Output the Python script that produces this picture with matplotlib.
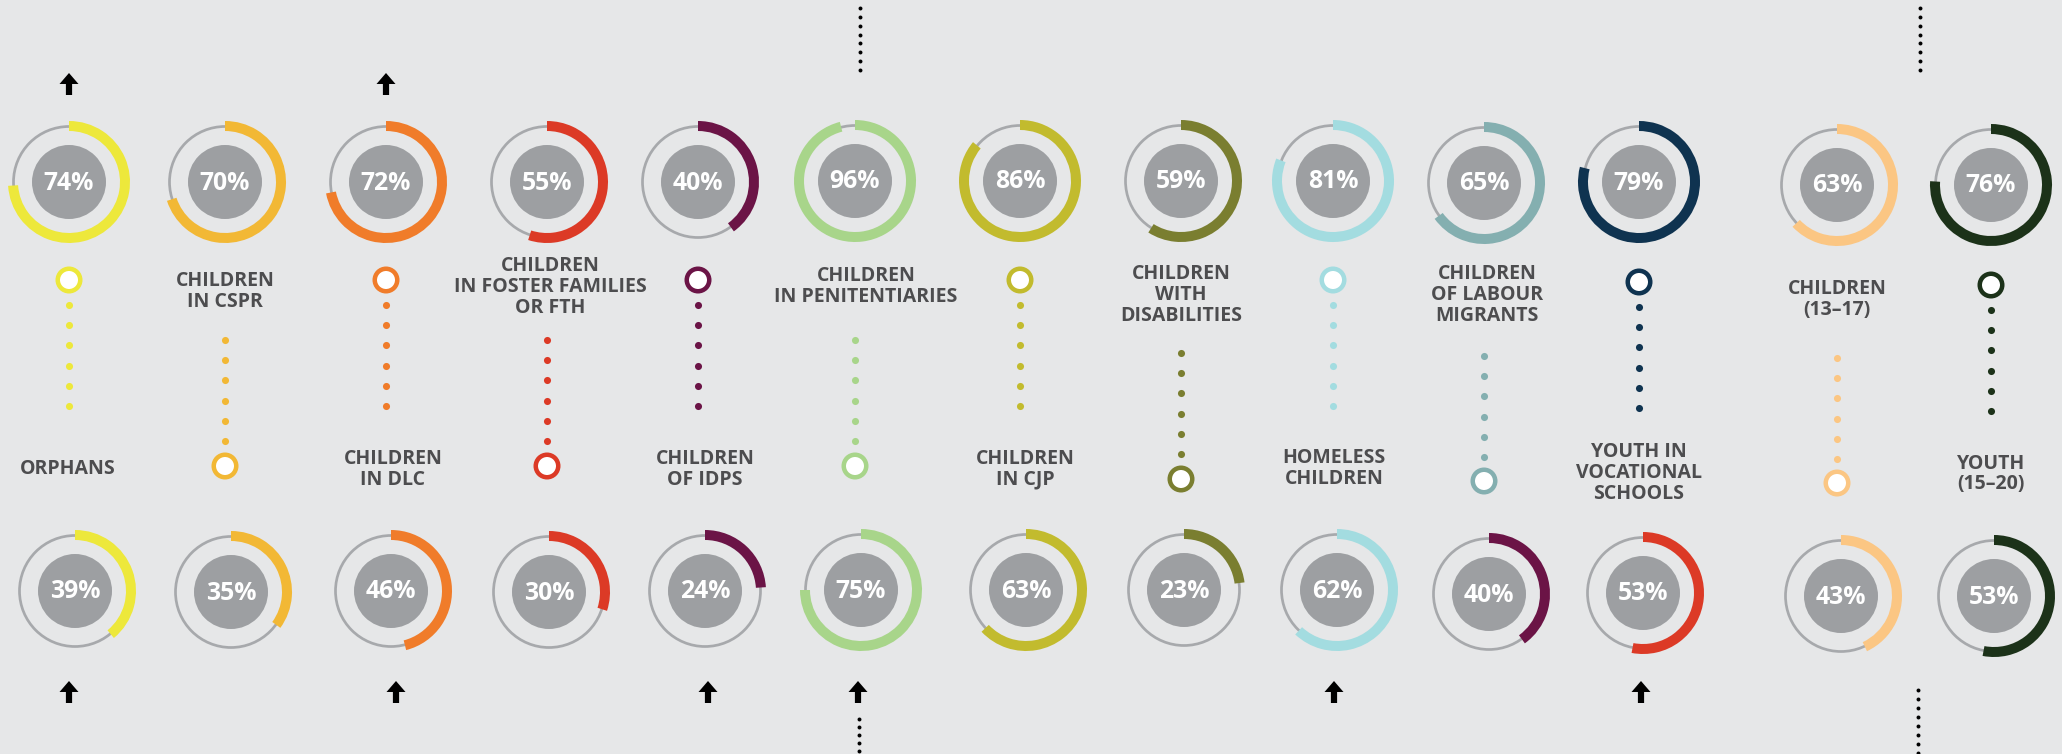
import matplotlib
matplotlib.use("Agg")
import matplotlib.pyplot as plt
from matplotlib.patches import Wedge, Circle, FancyArrow
import numpy as np

# ---------------- data ----------------
categories = ["ORPHANS", "CHILDREN\nIN CSPR", "CHILDREN\nIN DLC",
              "CHILDREN\nIN FOSTER FAMILIES\nOR FTH", "CHILDREN\nOF IDPS",
              "CHILDREN\nIN PENITENTIARIES", "CHILDREN\nIN CJP",
              "CHILDREN\nWITH\nDISABILITIES", "HOMELESS\nCHILDREN",
              "CHILDREN\nOF LABOUR\nMIGRANTS", "YOUTH IN\nVOCATIONAL\nSCHOOLS",
              "CHILDREN\n(13–17)", "YOUTH\n(15–20)"]
top_values = [74, 70, 72, 55, 40, 96, 86, 59, 81, 65, 79, 63, 76]
bottom_values = [39, 35, 46, 30, 24, 75, 63, 23, 62, 40, 53, 43, 53]
top_colors = ["#EDE83B", "#F2B835", "#F07C2A", "#DC3A26", "#6B1446", "#A8D58A",
              "#C2BB2E", "#7A7E30", "#A3DCE0", "#84AFB0", "#0F3350", "#FBC683", "#1C3219"]
bottom_colors = ["#EDE83B", "#F2B835", "#F07C2A", "#DC3A26", "#6B1446", "#A8D58A",
                 "#C2BB2E", "#7A7E30", "#A3DCE0", "#6B1446", "#DC3A26", "#FBC683", "#1C3219"]
top_arrows = [True, False, True, False, False, False, False, False, False, False, False, False, False]
bottom_arrows = [True, False, True, False, True, True, False, False, True, False, True, False, False]

# ---------------- layout (pixels) ----------------
W, H = 2062, 754
top_x = [69, 225, 386, 547, 698, 855, 1020, 1181, 1333, 1484, 1639, 1837, 1991]
bot_x = [75, 231, 391, 549, 705, 861, 1026, 1184, 1337, 1489, 1643, 1841, 1994]
top_y = [182, 182, 182, 182, 182, 181, 181, 181, 181, 183, 182, 185, 185]
bot_y = [591, 592, 591, 592, 591, 590, 590, 590, 590, 594, 593, 596, 596]
label_x = [68, 225, 393, 550, 705, 866, 1025, 1181, 1334, 1487, 1639, 1837, 1991]
label_y = [469, 291.5, 469.5, 287, 469.5, 286.5, 469.5, 295, 468.5, 295, 473, 299.5, 474]
dots_start = [305, 340, 305, 340, 305, 340, 305, 353, 305, 356, 307, 358, 310]
circle_y = [280, 466, 280, 466, 280, 466, 280, 479, 280, 481, 282, 483, 285]
arrow_bot_x = [69, 231, 396, 549, 708, 858, 1026, 1184, 1334, 1489, 1641, 1841, 1994]

BG = "#E6E7E8"
RING = "#A7A9AC"
DISK = "#9D9FA2"
TXT = "#4D4D4F"
FONT = ["Open Sans", "DejaVu Sans"]
R_OUT, ARC_W, R_RING, R_DISK = 61, 10, 55.5, 37

fig = plt.figure(figsize=(W / 100, H / 100), dpi=100, facecolor=BG)
ax = fig.add_axes([0, 0, 1, 1])
ax.set_facecolor(BG)
ax.set_xlim(0, W)
ax.set_ylim(H, 0)
ax.set_aspect("equal")
ax.axis("off")

pt = 72 / 100  # points per pixel


def donut(x, y, value, color):
    ax.add_patch(Circle((x, y), R_RING, fill=False, ec=RING, lw=2.7 * pt, zorder=2))
    ax.add_patch(Wedge((x, y), R_OUT, -90, -90 + 3.6 * value, width=ARC_W,
                       fc=color, ec="none", zorder=3))
    ax.add_patch(Circle((x, y), R_DISK, fc=DISK, ec="none", zorder=3))
    ax.text(x, y + 1, f"{value}%", ha="center", va="center", color="white",
            fontsize=17.8, fontweight="bold", family=FONT, zorder=4)


def arrow(x, y):
    ax.add_patch(FancyArrow(x, y + 11, 0, -22, width=6.2, head_width=19,
                            head_length=11, length_includes_head=True,
                            fc="black", ec="none", zorder=4))


for i, cat in enumerate(categories):
    donut(top_x[i], top_y[i], top_values[i], top_colors[i])
    donut(bot_x[i], bot_y[i], bottom_values[i], bottom_colors[i])
    # connector dots
    dy = dots_start[i] + np.arange(6) * 20.2
    ax.scatter([top_x[i]] * 6, dy, s=26, color=top_colors[i], lw=0, zorder=3)
    # open circle
    ax.add_patch(Circle((top_x[i], circle_y[i]), 11.25, fc="white",
                        ec=top_colors[i], lw=4.5 * pt, zorder=3))
    ax.text(label_x[i], label_y[i], cat, ha="center", va="center", color=TXT,
            fontsize=14, fontweight="bold", family=FONT,
            linespacing=1.04, zorder=4)
    if top_arrows[i]:
        arrow(top_x[i], 84)
    if bottom_arrows[i]:
        arrow(arrow_bot_x[i], 692)

# black dotted separators
for x, ys in [(860, np.linspace(8, 70, 8)), (1920, np.linspace(8, 70, 8)),
              (859, np.arange(719, 756, 8)), (1918, np.arange(690, 756, 9))]:
    ax.scatter([x] * len(ys), ys, s=8, color="black", lw=0, zorder=3)

fig.savefig("out.png", dpi=100, facecolor=BG)
